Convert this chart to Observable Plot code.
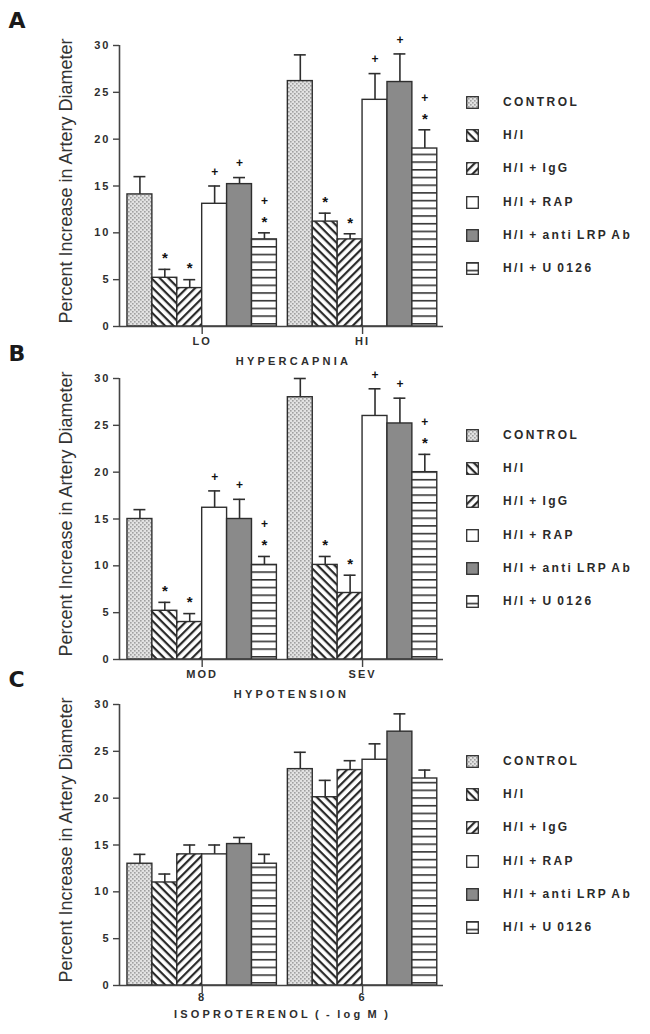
<!DOCTYPE html>
<html>
<head>
<meta charset="utf-8">
<script src="https://cdn.jsdelivr.net/npm/d3@7"></script>
<script src="https://cdn.jsdelivr.net/npm/@observablehq/plot@0.6"></script>
<style>
  html, body { margin: 0; padding: 0; background: #fff; }
  #root { position: relative; width: 650px; height: 1034px; overflow: hidden; font-family: "Liberation Sans", Arial, sans-serif; color: #222; }
  .panel { position: absolute; left: 0; }
  .legend { position: absolute; left: 466px; }
  .legrow { position: absolute; left: 0; height: 14px; white-space: nowrap; }
  .legrow svg { position: absolute; left: 0; top: 0; }
  .legrow span { position: absolute; left: 37px; top: -1px; font-weight: bold; font-size: 12px; letter-spacing: 2.4px; word-spacing: -2px; color: #2a2a2a; }
</style>
</head>
<body>
<svg width="0" height="0" style="position:absolute">
  <defs>
    <pattern id="pat0" patternUnits="userSpaceOnUse" width="4" height="4">
      <rect width="4" height="4" fill="#e2e2e2"/>
      <rect x="0" y="0" width="1.6" height="1.6" fill="#a0a0a0"/>
      <rect x="2" y="2" width="1.6" height="1.6" fill="#a0a0a0"/>
    </pattern>
    <pattern id="pat1" patternUnits="userSpaceOnUse" width="6" height="6" patternTransform="rotate(45)">
      <rect width="6" height="6" fill="#ffffff"/>
      <rect width="6" height="2.2" fill="#2a2a2a"/>
    </pattern>
    <pattern id="pat2" patternUnits="userSpaceOnUse" width="6" height="6" patternTransform="rotate(-45)">
      <rect width="6" height="6" fill="#ffffff"/>
      <rect width="6" height="2.2" fill="#2a2a2a"/>
    </pattern>
    <pattern id="pat5" patternUnits="userSpaceOnUse" width="8" height="7.7">
      <rect width="8" height="7.7" fill="#ffffff"/>
      <rect y="0" width="8" height="1.6" fill="#333333"/>
    </pattern>
  </defs>
</svg>
<div id="root"></div>
<script>
// ---------- DATA ----------
const series = ["CONTROL", "H/I", "H/I + IgG", "H/I + RAP", "H/I + anti LRP Ab", "H/I + U 0126"];
const panelLetters = ["A", "B", "C"];
const xTitles = ["HYPERCAPNIA", "HYPOTENSION", "ISOPROTERENOL ( - log M )"];
const yTitle = "Percent Increase in Artery Diameter";
const yTicks = [0, 5, 10, 15, 20, 25, 30];

// Panel A: hypercapnia
const groupsA = ["LO", "HI"];
const meansA = [[14.1, 5.2, 4.1, 13.1, 15.2, 9.3], [26.2, 11.2, 9.3, 24.2, 26.1, 19.0]];
const errsA  = [[16.0, 6.1, 5.0, 15.0, 15.9, 10.0], [29.0, 12.1, 9.9, 27.0, 29.1, 21.0]];
const sigsA  = [["", "*", "*", "+", "+", "+*"], ["", "*", "*", "+", "+", "+*"]];

// Panel B: hypotension
const groupsB = ["MOD", "SEV"];
const meansB = [[15.0, 5.2, 4.0, 16.2, 15.0, 10.1], [28.0, 10.1, 7.1, 26.0, 25.2, 20.0]];
const errsB  = [[16.0, 6.1, 4.9, 18.0, 17.1, 11.0], [30.0, 11.0, 9.0, 28.9, 27.9, 21.9]];
const sigsB  = [["", "*", "*", "+", "+", "+*"], ["", "*", "*", "+", "+", "+*"]];

// Panel C: isoproterenol
const groupsC = ["8", "6"];
const meansC = [[13.0, 11.0, 14.0, 14.0, 15.1, 13.0], [23.1, 20.1, 23.0, 24.1, 27.1, 22.1]];
const errsC  = [[14.0, 11.9, 15.0, 15.0, 15.8, 14.0], [24.9, 21.9, 24.0, 25.8, 29.0, 23.0]];
const sigsC  = [["", "", "", "", "", ""], ["", "", "", "", "", ""]];

// ---------- STYLE / LAYOUT ----------
const fills = ["url(#pat0)", "url(#pat1)", "url(#pat2)", "#ffffff", "#8a8a8a", "url(#pat5)"];
const GROUP_STEP = 6.44;
const X_DOMAIN = [-0.32, 12.69];
const INK = "#2e2e2e";
const FONT = "Liberation Sans, Arial, sans-serif";

const panels = [
  {letter: panelLetters[0], title: xTitles[0], groups: groupsA, means: meansA, errs: errsA, sigs: sigsA, top: 15, tickPad: 3, titleDy: 35, titleDx: 12},
  {letter: panelLetters[1], title: xTitles[1], groups: groupsB, means: meansB, errs: errsB, sigs: sigsB, top: 348, tickPad: 3, titleDy: 35, titleDx: 10},
  {letter: panelLetters[2], title: xTitles[2], groups: groupsC, means: meansC, errs: errsC, sigs: sigsC, top: 674, tickPad: 0, titleDy: 29, titleDx: 1}
];

const root = document.getElementById("root");
const M_TOP = 30, M_BOTTOM = 45, H = 356;

function makePanel(p) {
  const rows = [];
  p.groups.forEach((g, gi) => series.forEach((s, si) => rows.push({
    g, gi, s, si, mean: p.means[gi][si], err: p.errs[gi][si], sig: p.sigs[gi][si]
  })));
  const left = d => d.gi * GROUP_STEP + d.si;
  const mid = d => left(d) + 0.5;
  const centers = p.groups.map((g, gi) => gi * GROUP_STEP + series.length / 2);

  const marks = [];
  series.forEach((s, si) => {
    marks.push(Plot.rectY(rows.filter(d => d.si === si), {
      x1: left, x2: d => left(d) + 1, y1: 0, y2: "mean",
      fill: fills[si], stroke: INK, strokeWidth: 1.4
    }));
  });
  // error bars (upper only)
  marks.push(Plot.ruleX(rows, {x: mid, y1: "mean", y2: "err", stroke: INK, strokeWidth: 1.6}));
  marks.push(Plot.ruleY(rows, {y: "err", x1: d => mid(d) - 0.24, x2: d => mid(d) + 0.24, stroke: INK, strokeWidth: 1.6}));
  // significance symbols
  const symStyle = {x: mid, y: "err", fill: "#111111", fontWeight: "bold", lineAnchor: "middle", textAnchor: "middle", fontFamily: FONT};
  marks.push(Plot.text(rows.filter(d => d.sig.includes("*")), {...symStyle, text: () => "*", dy: -11, fontSize: 15}));
  marks.push(Plot.text(rows.filter(d => d.sig === "+"), {...symStyle, text: () => "+", dy: -14, fontSize: 12}));
  marks.push(Plot.text(rows.filter(d => d.sig === "+*"), {...symStyle, text: () => "+", dy: -32, fontSize: 12}));
  // axes lines
  marks.push(Plot.ruleY([0], {stroke: "#444", strokeWidth: 1.6}));
  marks.push(Plot.ruleX([X_DOMAIN[0]], {stroke: "#444", strokeWidth: 1.6}));
  marks.push(Plot.axisY({ticks: yTicks, tickSize: 6, tickPadding: 3, fontWeight: "bold", fontSize: 11, label: null, stroke: "#444", fill: INK, strokeWidth: 1.4}));
  marks.push(Plot.axisX({ticks: centers, tickFormat: d => p.groups[centers.indexOf(d)], tickSize: 8, tickPadding: p.tickPad, fontWeight: "bold", fontSize: 11, label: null, stroke: "#444", fill: INK, strokeWidth: 1.4}));
  // titles
  marks.push(Plot.text([yTitle], {frameAnchor: "left", rotate: -90, dx: -53, dy: -5, fontSize: 18, fill: "#333", textAnchor: "middle", lineAnchor: "middle", fontFamily: FONT}));
  marks.push(Plot.text([p.title], {frameAnchor: "bottom", dx: p.titleDx, dy: p.titleDy, fontSize: 11, fontWeight: "bold", fill: INK, textAnchor: "middle", lineAnchor: "middle", fontFamily: FONT}));
  marks.push(Plot.text([p.letter], {frameAnchor: "top-left", textAnchor: "start", dx: -111, dy: -25, fontSize: 22, fontWeight: "bold", fill: "#1a1a1a", lineAnchor: "middle", fontFamily: "DejaVu Sans, sans-serif"}));

  const svg = Plot.plot({
    width: 650, height: H,
    marginLeft: 119, marginRight: 207, marginTop: M_TOP, marginBottom: M_BOTTOM,
    x: {type: "linear", domain: X_DOMAIN},
    y: {domain: [0, 30]},
    style: {fontFamily: FONT, background: "transparent", overflow: "visible", color: INK},
    marks
  });
  // letter spacing for the wide bold labels
  const spaced = new Set([...p.groups, ...yTicks.map(String)]);
  svg.querySelectorAll("text").forEach(t => {
    const c = t.textContent;
    if (c === p.title) { t.style.letterSpacing = "3.2px"; t.style.wordSpacing = "-2px"; }
    else if (spaced.has(c)) { t.style.letterSpacing = "2px"; }
  });
  const wrap = document.createElement("div");
  wrap.className = "panel";
  wrap.style.top = p.top + "px";
  wrap.appendChild(svg);
  root.appendChild(wrap);

  // legend
  const leg = document.createElement("div");
  leg.className = "legend";
  leg.style.top = (p.top + M_TOP + 57 - 6) + "px";
  series.forEach((s, si) => {
    const row = document.createElement("div");
    row.className = "legrow";
    row.style.top = (si * 33.2) + "px";
    row.innerHTML = `<svg width="13" height="13"><rect x="0.7" y="0.7" width="11.6" height="11.6" fill="${fills[si]}" stroke="${INK}" stroke-width="1.3"/></svg><span>${s}</span>`;
    leg.appendChild(row);
  });
  root.appendChild(leg);
}

panels.forEach(makePanel);
</script>
</body>
</html>
